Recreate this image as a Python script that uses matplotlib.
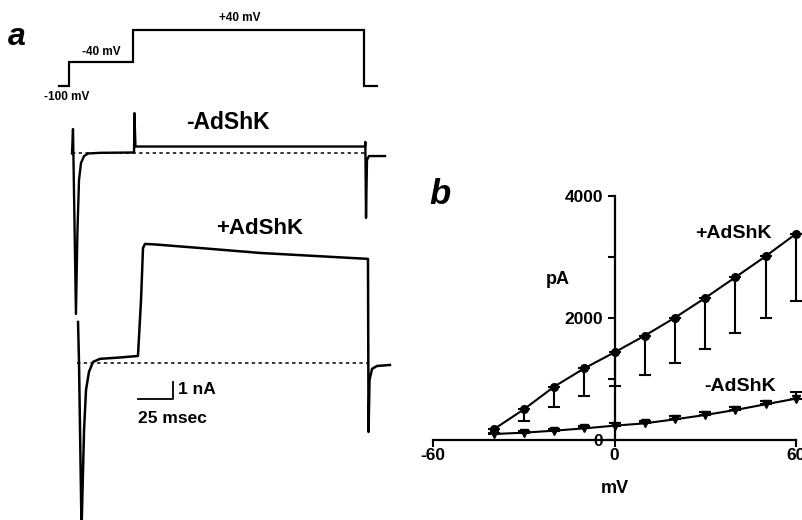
import numpy as np
import matplotlib
matplotlib.use('Agg')
import matplotlib.pyplot as plt

plt.rcParams['font.family'] = ['Liberation Sans', 'DejaVu Sans']
plt.rcParams['font.weight'] = 'bold'
plt.rcParams['axes.unicode_minus'] = False

# ---- panel a : voltage protocol (ms, mV)
prot_t = [-10, -2.9, -2.9, 42.9, 42.9, 207.9, 207.9, 217]
prot_v = [-100, -100, -40, -40, 40, 40, -100, -100]

# ---- panel a : example currents (ms, nA)
ctrl_t = [-0.7, 0, 2.1, 3.2, 4.3, 5.7, 7.9, 10.7, 19.3, 43.6, 43.9, 44.6,
          208.6, 208.8, 209.3, 210.0, 211.4, 222.9]
ctrl_i = [0, 1.44, -9.44, -4.5, -1.56, -0.56, -0.15, 0, 0.04, 0.06, 2.38, 0.41,
          0.41, 0.68, -3.79, -0.38, -0.15, -0.15]
shk_t = [3.6, 4.3, 6.1, 7.9, 9.3, 11.4, 14.3, 19.3, 33.6, 46.4, 48.6, 50.0, 51.4,
         58.6, 90.7, 133.6, 210.7, 211.1, 211.8, 213.6, 217.1, 226.4]
shk_i = [2.41, 0, -9.8, -3.94, -1.59, -0.53, 0.06, 0.24, 0.32, 0.41, 3.71, 6.76, 7.0,
         6.97, 6.76, 6.47, 6.12, -4.06, -1.0, -0.35, -0.18, -0.12]
shk_offset = -12.32          # vertical offset of the lower trace
ctrl_base = (-0.7, 208.6)    # dashed zero-current lines
shk_base = (3.0, 210.7)

# scale bar
bar_t0, bar_i0 = 46.4, -14.44
bar_dt, bar_di = 25, 1

# ---- panel b : I-V relation (mV, pA)
volts = [-40, -30, -20, -10, 0, 10, 20, 30, 40, 50, 60]
plus_mean = [175, 503, 874, 1175, 1437, 1710, 2005, 2328, 2667, 3011, 3377]
plus_err = [0, 186, 339, 454, 546, 644, 743, 836, 918, 1006, 1093]
minus_mean = [98, 120, 153, 191, 235, 273, 339, 410, 492, 585, 678]
minus_err = [20, 25, 30, 35, 40, 45, 50, 55, 55, 60, 103]

fig = plt.figure(figsize=(8.03, 5.2), dpi=100)

# protocol
axp = fig.add_axes([0, 420/520, 400/803, 100/520])
axp.set_xlim(-52.14, 233.57)
axp.set_ylim(-135, 115)
axp.axis('off')
axp.plot(prot_t, prot_v, 'k-', lw=1.6, solid_joinstyle='miter')
axp.text(-4.3, -127.5, '-100 mV', fontsize=8.5, ha='center', va='center')
axp.text(20, -15, '-40 mV', fontsize=8.5, ha='center', va='center')
axp.text(119.3, 70, '+40 mV', fontsize=8.5, ha='center', va='center')

# traces
axa = fig.add_axes([0, 0, 400/803, 420/520])
axa.set_xlim(-52.14, 233.57)
axa.set_ylim(-21.56, 3.147)
axa.axis('off')
axa.plot(ctrl_t, ctrl_i, 'k-', lw=1.7)
axa.plot(shk_t, np.array(shk_i) + shk_offset, 'k-', lw=1.8)
axa.plot(ctrl_base, [0, 0], 'k', lw=1.1, ls=(0, (2.2, 2.2)))
axa.plot(shk_base, [shk_offset, shk_offset], 'k', lw=1.1, ls=(0, (2.2, 2.2)))
axa.plot([bar_t0, bar_t0 + bar_dt, bar_t0 + bar_dt],
         [bar_i0, bar_i0, bar_i0 + bar_di], 'k-', lw=1.3)
axa.text(bar_t0 + bar_dt + 3.5, bar_i0 + 0.55, '1 nA', fontsize=12.5, va='center')
axa.text(bar_t0 + 24.3, bar_i0 - 1.12, '25 msec', fontsize=12.5, ha='center', va='center')
axa.text(110.7, 1.85, '-AdShK', fontsize=16.5, ha='center', va='center')
axa.text(133.6, -4.44, '+AdShK', fontsize=16, ha='center', va='center')

fig.text(17/803, 1 - 37/520, 'a', fontsize=23, style='italic', fontweight='bold',
         ha='center', va='center')
fig.text(440/803, 1 - 194/520, 'b', fontsize=25, style='italic', fontweight='bold',
         ha='center', va='center')

# I-V plot
axb = fig.add_axes([433.3/803, 80/520, 362.4/803, 244/520])
axb.set_xlim(-60, 60)
axb.set_ylim(0, 4000)
for s in ['top', 'right']:
    axb.spines[s].set_visible(False)
axb.spines['left'].set_position(('data', 0))
axb.spines['left'].set_linewidth(1.6)
axb.spines['bottom'].set_linewidth(1.6)
axb.set_xticks([-60, 0, 60])
axb.set_yticks([0, 2000, 4000])
axb.set_yticks([1000, 3000], minor=True)
axb.tick_params(axis='both', which='both', width=1.5, length=5, labelsize=12.5)
axb.tick_params(axis='x', pad=1)
axb.tick_params(axis='y', pad=3)
for lab in axb.get_xticklabels() + axb.get_yticklabels():
    lab.set_fontweight('bold')

axb.errorbar(volts, plus_mean, yerr=[plus_err, [0]*len(volts)], fmt='o-', color='k',
             ms=5.5, lw=1.5, elinewidth=1.5, capsize=4.5, capthick=1.5, clip_on=False)
axb.errorbar(volts, minus_mean, yerr=[[0]*len(volts), minus_err], fmt='v-', color='k',
             ms=6, lw=1.5, elinewidth=1.5, capsize=4.5, capthick=1.5, clip_on=False)

axb.text(-18.9, 2623, 'pA', fontsize=13, ha='center', va='center')
axb.text(0, -0.197, 'mV', fontsize=13, ha='center', va='center',
         transform=axb.get_xaxis_transform())
axb.text(39.4, 3393, '+AdShK', fontsize=14, ha='center', va='center')
axb.text(41.7, 869, '-AdShK', fontsize=14, ha='center', va='center')

fig.savefig('out.png', dpi=100)
